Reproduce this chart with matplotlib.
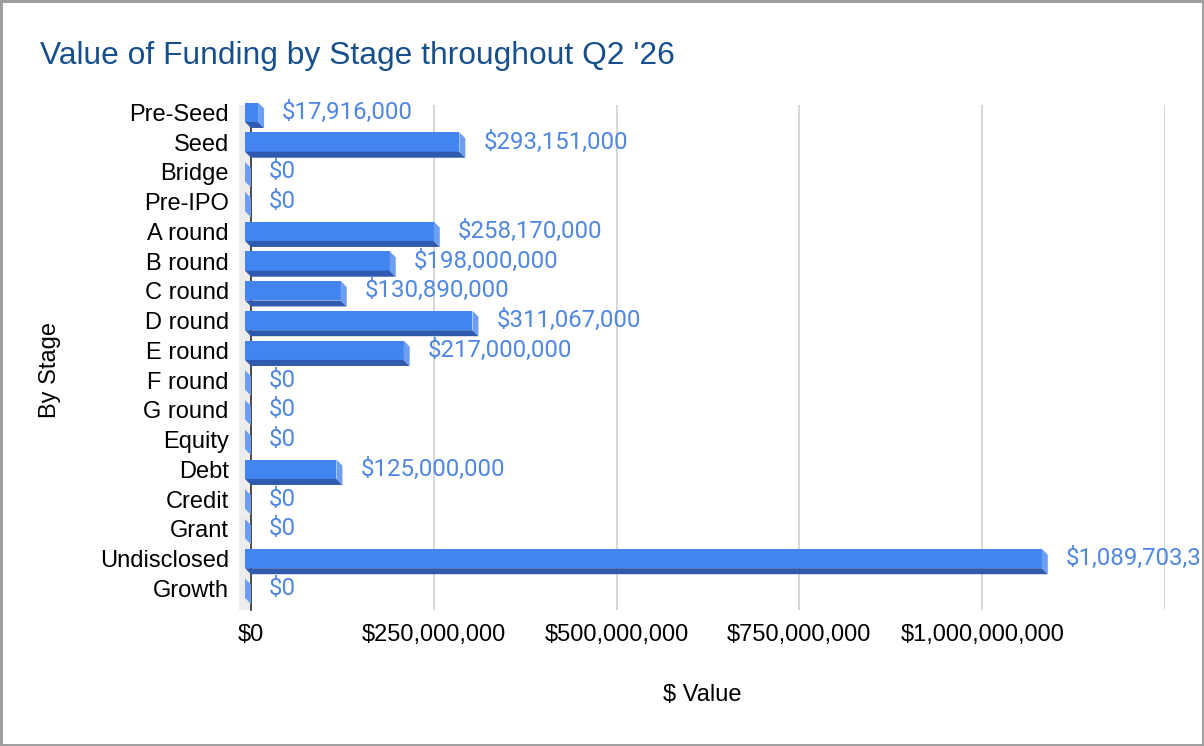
import matplotlib
matplotlib.use("Agg")
import matplotlib.pyplot as plt
from matplotlib.patches import Polygon, Rectangle
from matplotlib.transforms import Bbox, TransformedBbox

# funding by stage, Q2 '26
stages = ["Pre-Seed", "Seed", "Bridge", "Pre-IPO", "A round", "B round", "C round",
          "D round", "E round", "F round", "G round", "Equity", "Debt", "Credit",
          "Grant", "Undisclosed", "Growth"]
values = [17916000, 293151000, 0, 0, 258170000, 198000000, 130890000,
          311067000, 217000000, 0, 0, 0, 125000000, 0,
          0, 1089703300, 0]
tick_values = [0, 250000000, 500000000, 750000000, 1000000000, 1250000000]
tick_labels = ["$0", "$250,000,000", "$500,000,000", "$750,000,000", "$1,000,000,000", ""]

W, H = 1204, 746
face = "#4285f0"
dark = "#2f5aad"
light = "#6d9ef2"
lab_col = "#4f87e2"

plt.rcParams["font.family"] = ["Liberation Sans", "DejaVu Sans"]

fig = plt.figure(figsize=(W / 100, H / 100), dpi=100)
ax = fig.add_axes([251 / W, 1 - 610 / H, (1165 - 251) / W, (610 - 105) / H])

xmax = 1250000000
ax.set_xlim(0, xmax)
ax.set_ylim(16.731, -0.244)

px = xmax / (1165 - 251)      # data units per pixel in x
rowpx = 29.75                 # pixels per category
d = 6 * px                    # depth offset of 3D bars
e = 6 / rowpx
h = 19.4 / rowpx

pos = list(range(len(stages)))

# back wall + axis line
ax.add_patch(Rectangle((-12 * px, -0.244), 12 * px, 16.975, color="#ececec",
                       zorder=1, clip_on=False, lw=0))
ax.plot([0, 0], [-0.244, 16.731], color="#333333", lw=1.2, zorder=2, clip_on=False)

# chart area clip (labels running off the right side get cut like the original)
area = TransformedBbox(Bbox([[0, 0], [1199 / W, 1]]), fig.transFigure)

ax.barh(pos, values, left=-d, height=h, color=face, zorder=3, clip_on=False)
for i, v in zip(pos, values):
    top = i - h / 2
    bot = i + h / 2
    ax.add_patch(Polygon([(-d, bot), (v - d, bot), (v, bot + e), (0, bot + e)],
                         closed=True, color=dark, lw=0, zorder=3, clip_on=False))
    ax.add_patch(Polygon([(v - d, top), (v, top + e), (v, bot + e), (v - d, bot)],
                         closed=True, color=light, lw=0, zorder=3, clip_on=False))
    t = ax.annotate(f"${v:,.0f}", (v, i), xytext=(18, 0), textcoords="offset pixels",
                    va="center", ha="left", fontsize=17.3, color=lab_col,
                    family=["Roboto", "DejaVu Sans"], annotation_clip=False)
    t.set_clip_box(area)
    t.set_clip_on(True)

ax.set_yticks(pos)
ax.set_yticklabels(stages)
ax.set_xticks(tick_values)
ax.set_xticklabels(tick_labels)
ax.tick_params(axis="both", length=0, labelsize=17, colors="black")
ax.tick_params(axis="y", pad=16)
ax.tick_params(axis="x", pad=10)
ax.xaxis.grid(True, color="#cccccc", lw=1.1, zorder=0)
ax.set_axisbelow(True)
for s in ax.spines.values():
    s.set_visible(False)

fig.text(40 / W, 1 - 64 / H, "Value of Funding by Stage throughout Q2 '26",
         fontsize=22.9, color="#174f8c", va="baseline", ha="left")
fig.text(702 / W, 1 - 695 / H, "$ Value", fontsize=17, ha="center", va="center")
fig.text(50 / W, 1 - 370 / H, "By Stage", fontsize=17, ha="center", va="center",
         rotation=90)

fig.patches.append(Rectangle((0, 0), 1, 1, transform=fig.transFigure, fill=False,
                             edgecolor="#9e9e9e", lw=3.5, zorder=10))

fig.savefig("out.png", dpi=100)
